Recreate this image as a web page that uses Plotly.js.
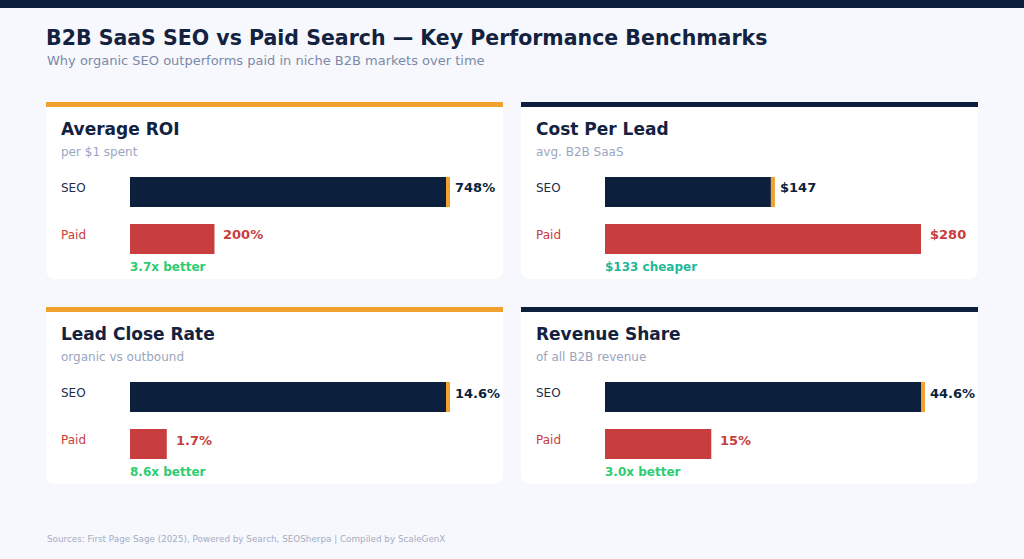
<!DOCTYPE html>
<html>
<head>
<meta charset="utf-8">
<script src="https://cdn.plot.ly/plotly-3.0.1.min.js"></script>
<style>
html,body{margin:0;padding:0;background:#f7f8fd;}
#chart{width:1024px;height:559px;}
</style>
</head>
<body>
<div id="chart"></div>
<script>
// ---------- data ----------
const metricTitles = ['Average ROI', 'Cost Per Lead', 'Lead Close Rate', 'Revenue Share'];
const metricSubtitles = ['per $1 spent', 'avg. B2B SaaS', 'organic vs outbound', 'of all B2B revenue'];
const channels = ['SEO', 'Paid'];
const seoValues = [748, 147, 14.6, 44.6];
const paidValues = [200, 280, 1.7, 15];
const seoLabels = ['748%', '$147', '14.6%', '44.6%'];
const paidLabels = ['200%', '$280', '1.7%', '15%'];
const deltaLabels = ['3.7x better', '$133 cheaper', '8.6x better', '3.0x better'];

// ---------- style ----------
const W = 1024, H = 559;
const fx = p => p / W;
const fy = p => 1 - p / H;
const NAVY = '#0c1f3d', RED = '#c83d3d', ORANGE = '#f0a12e';
const GREEN = '#2ecc71', TEAL = '#1fb89a';
const FONT = 'DejaVu Sans, Verdana, sans-serif';
const accentColors = [ORANGE, NAVY, ORANGE, NAVY];
const deltaColors = [GREEN, TEAL, GREEN, GREEN];
const cardX = [46, 521, 46, 521];
const cardY = [102, 102, 307, 307];
const cardW = 457, cardH = 177, radius = 10;
const barOffset = 84, barFull = 316, capPx = 4, plotPx = 320;

const traces = [];
const shapes = [];
const annotations = [];
const layout = {
  width: W, height: H,
  margin: {l: 0, r: 0, t: 0, b: 0},
  paper_bgcolor: '#f7f8fd',
  plot_bgcolor: 'rgba(0,0,0,0)',
  showlegend: false,
  barmode: 'overlay',
  font: {family: FONT, color: NAVY},
  title: {
    text: 'B2B SaaS SEO vs Paid Search — Key Performance Benchmarks',
    x: fx(46), xanchor: 'left', xref: 'paper',
    y: fy(38), yanchor: 'middle', yref: 'paper',
    font: {family: FONT, size: 20.5, color: '#13223f', weight: 'bold'}
  }
};

// top band
shapes.push({type: 'rect', xref: 'paper', yref: 'paper', x0: 0, x1: 1, y0: fy(8), y1: 1,
  fillcolor: NAVY, line: {width: 0}, layer: 'below'});

for (let i = 0; i < 4; i++) {
  const n = i === 0 ? '' : String(i + 1);
  const xa = 'x' + n, ya = 'y' + n;
  const cx = cardX[i], cy = cardY[i];
  // card body with rounded bottom corners
  const x0 = fx(cx), x1 = fx(cx + cardW), yt = fy(cy), yb = fy(cy + cardH);
  const rx = radius / W, ry = radius / H;
  shapes.push({type: 'path', xref: 'paper', yref: 'paper', layer: 'below',
    path: `M${x0},${yt} L${x1},${yt} L${x1},${yb + ry} Q${x1},${yb} ${x1 - rx},${yb} L${x0 + rx},${yb} Q${x0},${yb} ${x0},${yb + ry} Z`,
    fillcolor: '#ffffff', line: {width: 0}});
  // accent bar
  shapes.push({type: 'rect', xref: 'paper', yref: 'paper', layer: 'below',
    x0: x0, x1: x1, y0: fy(cy + 5), y1: yt, fillcolor: accentColors[i], line: {width: 0}});

  const maxVal = Math.max(seoValues[i], paidValues[i]);
  const capLen = maxVal * capPx / barFull;
  layout['xaxis' + n] = {
    domain: [fx(cx + barOffset), fx(cx + barOffset + plotPx)],
    range: [0, maxVal * plotPx / barFull],
    anchor: ya, visible: false, fixedrange: true
  };
  const cY = cy + 90; // center of SEO bar
  layout['yaxis' + n] = {
    domain: [fy(cY + 47 + 23.5), fy(cY - 23.5)],
    type: 'category', categoryorder: 'array', categoryarray: channels,
    range: [1.5, -0.5], anchor: xa, visible: false, fixedrange: true
  };

  traces.push({type: 'bar', orientation: 'h', x: [seoValues[i]], y: [channels[0]],
    xaxis: xa, yaxis: ya, width: 0.64, marker: {color: NAVY, line: {width: 0}}, hoverinfo: 'skip'});
  traces.push({type: 'bar', orientation: 'h', x: [capLen], base: [seoValues[i]], y: [channels[0]],
    xaxis: xa, yaxis: ya, width: 0.64, marker: {color: ORANGE, line: {width: 0}}, hoverinfo: 'skip'});
  traces.push({type: 'bar', orientation: 'h', x: [paidValues[i]], y: [channels[1]],
    xaxis: xa, yaxis: ya, width: 0.64, marker: {color: RED, line: {width: 0}}, hoverinfo: 'skip'});

  // value labels
  annotations.push({xref: xa, yref: ya, x: seoValues[i], y: 0, xshift: 8, yshift: 4, text: seoLabels[i],
    xanchor: 'left', yanchor: 'middle', showarrow: false, borderpad: 0,
    font: {family: FONT, size: 13, color: NAVY, weight: 'bold'}});
  annotations.push({xref: xa, yref: ya, x: paidValues[i], y: 1, xshift: 8, yshift: 4, text: paidLabels[i],
    xanchor: 'left', yanchor: 'middle', showarrow: false, borderpad: 0,
    font: {family: FONT, size: 13, color: RED, weight: 'bold'}});
  // channel labels
  annotations.push({xref: 'paper', yref: ya, x: fx(cx + 14), y: 0, yshift: 4, text: channels[0],
    xanchor: 'left', yanchor: 'middle', showarrow: false, borderpad: 0,
    font: {family: FONT, size: 12, color: '#1e2d4a'}});
  annotations.push({xref: 'paper', yref: ya, x: fx(cx + 14), y: 1, yshift: 4, text: channels[1],
    xanchor: 'left', yanchor: 'middle', showarrow: false, borderpad: 0,
    font: {family: FONT, size: 12, color: RED}});
  // card title and subtitle
  annotations.push({xref: 'paper', yref: 'paper', x: fx(cx + 14), y: fy(cy + 27), text: metricTitles[i],
    xanchor: 'left', yanchor: 'middle', showarrow: false, borderpad: 0,
    font: {family: FONT, size: 17, color: '#13223f', weight: 'bold'}});
  annotations.push({xref: 'paper', yref: 'paper', x: fx(cx + 14), y: fy(cy + 50), text: metricSubtitles[i],
    xanchor: 'left', yanchor: 'middle', showarrow: false, borderpad: 0,
    font: {family: FONT, size: 12, color: '#9aa6bf'}});
  // delta
  annotations.push({xref: 'paper', yref: 'paper', x: fx(cx + barOffset - 1), y: fy(cy + 165), text: deltaLabels[i],
    xanchor: 'left', yanchor: 'middle', showarrow: false, borderpad: 0,
    font: {family: FONT, size: 12, color: deltaColors[i], weight: 'bold'}});
}

// subtitle and footer
annotations.push({xref: 'paper', yref: 'paper', x: fx(46), y: fy(61),
  text: 'Why organic SEO outperforms paid in niche B2B markets over time',
  xanchor: 'left', yanchor: 'middle', showarrow: false, borderpad: 0,
  font: {family: FONT, size: 13, color: '#7b8aa8'}});
annotations.push({xref: 'paper', yref: 'paper', x: fx(46), y: fy(539),
  text: 'Sources: First Page Sage (2025), Powered by Search, SEOSherpa | Compiled by ScaleGenX',
  xanchor: 'left', yanchor: 'middle', showarrow: false, borderpad: 0,
  font: {family: FONT, size: 8.8, color: '#a3adc4'}});

layout.shapes = shapes;
layout.annotations = annotations;

Plotly.newPlot('chart', traces, layout, {displayModeBar: false, staticPlot: true});
</script>
</body>
</html>
